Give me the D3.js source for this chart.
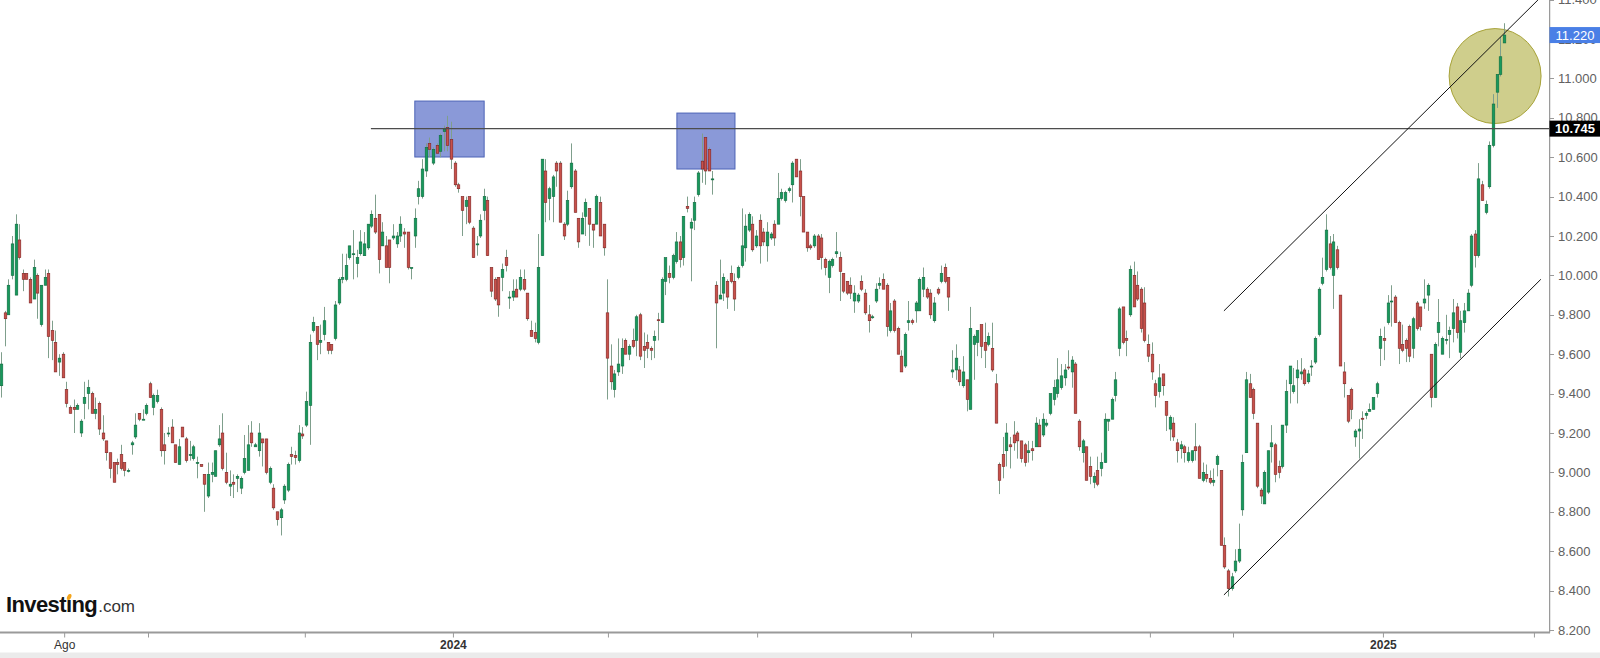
<!DOCTYPE html>
<html><head><meta charset="utf-8">
<script src="https://cdn.jsdelivr.net/npm/d3@7"></script>
<style>html,body{margin:0;padding:0;background:#fff;overflow:hidden}</style>
</head><body>
<svg id="chart" width="1600" height="658"></svg>
<script>
// ---- data (daily candles) ----
const open = [9.44,9.81,9.80,10.00,9.90,10.18,10.01,10.01,9.98,9.88,
10.00,9.75,9.95,10.01,9.72,9.66,9.56,9.60,9.42,9.33,
9.33,9.32,9.20,9.35,9.40,9.40,9.30,9.35,9.20,9.16,
9.10,9.05,9.05,9.09,9.05,9.01,9.14,9.18,9.30,9.27,
9.30,9.45,9.33,9.36,9.32,9.14,9.20,9.23,9.14,9.04,
9.23,9.17,9.09,9.07,9.05,9.04,8.99,8.88,8.99,8.98,
9.14,9.20,9.00,8.93,8.95,8.97,8.92,9.00,9.01,9.20,
9.13,9.11,9.17,9.17,8.95,8.92,8.80,8.77,8.86,8.91,
9.09,9.085,9.06,9.195,9.24,9.34,9.72,9.74,9.66,9.70,
9.66,9.65,9.68,9.86,9.98,9.98,10.09,10.11,10.06,10.11,
10.10,10.14,10.25,10.29,10.31,10.15,10.15,10.18,10.19,10.16,
10.20,10.22,10.22,10.04,10.20,10.40,10.40,10.53,10.67,10.57,
10.66,10.63,10.73,10.75,10.69,10.57,10.46,10.40,10.35,10.40,
10.24,10.16,10.20,10.33,10.38,10.04,9.98,9.99,9.99,10.09,
9.885,9.89,9.93,9.93,9.98,9.91,9.72,9.71,9.66,10.10,
10.53,10.39,10.40,10.57,10.57,10.26,10.26,10.45,10.53,10.29,
10.21,10.30,10.34,10.26,10.26,10.37,10.26,9.81,9.54,9.42,
9.51,9.54,9.67,9.60,9.67,9.67,9.80,9.64,9.66,9.63,
9.67,9.775,9.76,9.97,10.01,9.99,10.07,10.17,10.09,10.35,
10.24,10.28,10.41,10.58,10.70,10.64,10.49,9.95,9.88,9.91,
9.97,10.01,9.97,9.99,10.05,10.14,10.23,10.26,10.15,10.28,
10.22,10.15,10.19,10.26,10.26,10.39,10.38,10.43,10.46,10.59,
10.53,10.40,10.22,10.15,10.15,10.20,10.19,10.08,9.99,10.05,
10.11,10.09,10.01,9.97,9.95,9.87,9.87,9.97,9.91,9.80,
9.79,9.87,9.95,9.98,9.95,9.72,9.87,9.73,9.59,9.54,
9.76,9.77,9.82,9.82,9.93,9.93,9.91,9.77,9.93,9.97,
10.04,9.99,9.51,9.52,9.52,9.44,9.47,9.32,9.65,9.66,
9.75,9.66,9.65,9.63,9.45,9.04,9.09,9.11,9.14,9.19,
9.20,9.16,9.14,9.10,9.12,9.13,9.24,9.19,9.24,9.30,
9.37,9.40,9.43,9.48,9.535,9.51,9.55,9.26,9.10,9.13,
9.03,8.95,9.01,9.02,9.05,9.26,9.27,9.39,9.63,9.84,
9.68,9.80,10.00,9.95,9.93,9.86,9.65,9.60,9.45,9.41,
9.50,9.36,9.22,9.25,9.15,9.12,9.13,9.06,9.06,9.13,
9.13,8.96,8.99,8.97,8.95,9.04,9.01,8.63,8.50,8.41,
8.50,8.55,8.81,9.10,9.45,9.42,9.25,8.91,8.84,8.90,
9.13,9.14,9.03,9.03,9.24,9.45,9.41,9.48,9.50,9.52,
9.46,9.535,9.56,9.70,9.96,10.03,10.16,10.00,10.13,9.90,
9.51,9.39,9.42,9.18,9.21,9.275,9.29,9.31,9.32,9.40,
9.63,9.68,9.76,9.865,9.89,9.76,9.65,9.67,9.74,9.63,
9.86,9.84,9.86,9.90,9.60,9.38,9.71,9.60,9.67,9.70,
9.73,9.84,9.61,9.76,9.82,9.95,10.21,10.10,10.46,10.32,
10.45,10.66,10.93,11.02,11.18];

const high = [9.61,9.82,9.98,10.20,10.31,10.26,10.03,10.01,9.99,10.08,
10.01,9.95,10.03,10.03,9.77,9.72,9.60,9.61,9.46,9.34,
9.37,9.35,9.27,9.46,9.47,9.41,9.38,9.36,9.29,9.16,
9.10,9.05,9.07,9.14,9.05,9.02,9.16,9.30,9.30,9.32,
9.35,9.46,9.40,9.42,9.33,9.20,9.23,9.27,9.14,9.17,
9.23,9.18,9.16,9.14,9.08,9.04,8.99,9.05,9.05,9.11,
9.24,9.30,9.10,9.01,8.99,8.99,8.98,9.19,9.24,9.26,
9.15,9.25,9.17,9.17,9.03,8.94,8.80,8.82,8.94,9.05,
9.13,9.11,9.24,9.23,9.41,9.70,9.79,9.74,9.75,9.84,
9.66,9.65,9.87,9.99,10.11,10.11,10.15,10.23,10.13,10.23,
10.22,10.26,10.33,10.41,10.31,10.27,10.20,10.18,10.26,10.22,
10.30,10.24,10.22,10.04,10.34,10.48,10.59,10.67,10.70,10.65,
10.67,10.72,10.76,10.81,10.78,10.58,10.47,10.40,10.40,10.40,
10.25,10.20,10.31,10.44,10.40,10.04,9.99,9.99,10.06,10.13,
9.92,9.98,9.98,10.03,10.03,9.91,9.77,9.76,10.21,10.59,
10.59,10.45,10.51,10.58,10.58,10.27,10.43,10.67,10.54,10.29,
10.32,10.39,10.34,10.26,10.41,10.40,10.26,9.98,9.65,9.52,
9.68,9.68,9.68,9.65,9.73,9.80,9.81,9.71,9.70,9.64,
9.72,9.81,9.99,10.09,10.05,10.11,10.22,10.20,10.30,10.40,
10.29,10.40,10.53,10.72,10.70,10.65,10.53,9.97,10.08,10.01,
9.98,10.05,10.01,10.05,10.34,10.31,10.32,10.30,10.23,10.31,
10.24,10.27,10.22,10.28,10.52,10.44,10.43,10.45,10.58,10.59,
10.59,10.40,10.22,10.16,10.21,10.21,10.21,10.09,10.08,10.09,
10.22,10.12,10.01,9.97,9.99,9.95,9.91,10.00,9.93,9.85,
9.80,9.96,9.99,10.01,9.96,9.86,9.88,9.74,9.62,9.71,
9.87,9.78,9.87,9.99,10.04,9.94,9.93,9.89,9.94,10.05,
10.06,9.99,9.62,9.65,9.54,9.59,9.47,9.84,9.70,9.72,
9.75,9.76,9.71,9.76,9.50,9.05,9.18,9.25,9.18,9.26,
9.21,9.16,9.15,9.16,9.16,9.28,9.27,9.30,9.27,9.40,
9.47,9.58,9.55,9.55,9.62,9.59,9.56,9.27,9.17,9.13,
9.08,9.00,9.08,9.10,9.30,9.27,9.38,9.51,9.84,9.84,
9.72,10.05,10.07,10.02,9.94,9.94,9.70,9.66,9.47,9.55,
9.50,9.36,9.29,9.28,9.17,9.16,9.14,9.13,9.11,9.25,
9.14,9.05,9.04,9.01,9.02,9.09,9.01,8.67,8.51,8.49,
8.61,8.74,9.09,9.51,9.50,9.43,9.25,8.92,9.01,9.11,
9.24,9.15,9.06,9.24,9.47,9.54,9.53,9.57,9.58,9.53,
9.52,9.57,9.69,9.94,10.09,10.31,10.20,10.21,10.15,9.90,
9.56,9.39,9.43,9.22,9.27,9.31,9.31,9.35,9.38,9.46,
9.73,9.74,9.90,9.95,9.90,9.77,9.75,9.68,9.75,9.79,
9.87,9.84,9.98,9.96,9.60,9.66,9.88,9.69,9.80,9.74,
9.88,9.86,9.82,9.86,9.93,10.21,10.23,10.57,10.48,10.38,
10.68,10.92,11.02,11.21,11.28];

const low = [9.38,9.64,9.80,9.98,9.90,10.08,9.92,9.98,9.86,9.88,
9.78,9.74,9.95,9.58,9.57,9.51,9.49,9.48,9.33,9.30,
9.20,9.32,9.18,9.27,9.32,9.30,9.27,9.19,9.16,9.06,
8.97,8.95,8.99,9.01,8.98,9.00,9.09,9.17,9.26,9.27,
9.29,9.38,9.29,9.35,9.08,9.04,9.18,9.15,9.05,9.04,
9.18,9.05,9.06,9.06,8.97,9.03,8.80,8.87,8.95,8.98,
9.13,9.01,8.94,8.88,8.87,8.90,8.89,8.99,9.01,9.13,
9.13,9.08,9.03,8.99,8.94,8.81,8.73,8.68,8.84,8.90,
9.04,9.04,9.05,9.17,9.23,9.14,9.71,9.57,9.60,9.67,
9.60,9.60,9.67,9.85,9.96,9.97,10.08,9.98,9.99,10.10,
10.10,10.13,10.24,10.21,10.01,10.15,10.04,9.96,10.18,10.14,
10.17,10.14,10.03,9.98,10.14,10.36,10.39,10.50,10.60,10.56,
10.62,10.60,10.63,10.63,10.54,10.45,10.42,10.20,10.26,10.26,
10.09,10.10,10.19,10.28,10.10,9.89,9.87,9.79,9.92,10.02,
9.83,9.87,9.89,9.92,9.92,9.77,9.69,9.66,9.65,10.10,
10.27,10.28,10.27,10.45,10.27,10.18,10.25,10.44,10.32,10.14,
10.21,10.20,10.15,10.14,10.26,10.20,10.10,9.37,9.42,9.38,
9.49,9.50,9.60,9.57,9.63,9.59,9.57,9.53,9.58,9.57,
9.58,9.67,9.76,9.90,9.96,9.98,10.06,10.04,10.05,10.32,
9.97,10.23,10.40,10.47,10.46,10.53,10.41,9.63,9.88,9.87,
9.83,9.96,9.82,9.98,10.04,10.07,10.22,10.12,10.14,10.06,
10.15,10.07,10.18,10.15,10.26,10.38,10.37,10.42,10.37,10.50,
10.30,10.22,10.12,10.13,10.14,10.08,10.03,10.00,9.91,10.04,
10.09,9.87,9.91,9.90,9.88,9.81,9.86,9.92,9.80,9.71,
9.78,9.86,9.93,9.93,9.69,9.71,9.71,9.60,9.51,9.53,
9.72,9.75,9.76,9.82,9.89,9.88,9.78,9.76,9.90,9.96,
9.96,9.82,9.48,9.47,9.44,9.43,9.31,9.32,9.47,9.59,
9.58,9.53,9.64,9.51,9.25,8.89,8.97,9.03,9.02,9.11,
9.07,9.05,9.03,9.05,9.06,9.13,9.13,9.18,9.23,9.29,
9.34,9.38,9.42,9.44,9.52,9.43,9.30,9.11,9.05,8.96,
8.94,8.92,8.93,8.98,9.05,9.21,9.27,9.36,9.59,9.65,
9.59,9.79,9.84,9.87,9.71,9.66,9.56,9.47,9.33,9.38,
9.39,9.21,9.16,9.16,9.05,9.07,9.05,9.05,9.05,9.06,
8.97,8.95,8.95,8.94,8.93,8.98,8.63,8.51,8.37,8.40,
8.49,8.54,8.78,9.10,9.38,9.27,8.92,8.84,8.84,8.89,
9.05,8.95,8.97,9.02,9.20,9.35,9.40,9.35,9.47,9.44,
9.45,9.49,9.55,9.69,9.95,10.02,10.03,9.83,10.03,9.54,
9.38,9.25,9.27,9.13,9.07,9.17,9.27,9.31,9.32,9.38,
9.54,9.57,9.75,9.74,9.76,9.55,9.61,9.56,9.56,9.58,
9.72,9.72,9.83,9.82,9.33,9.38,9.64,9.60,9.65,9.58,
9.66,9.68,9.58,9.71,9.82,9.94,10.04,10.09,10.38,10.31,
10.44,10.65,10.85,11.01,11.18];

const close = [9.55,9.78,9.95,10.16,10.26,10.09,9.98,9.98,9.86,10.04,
9.91,9.95,9.99,9.69,9.67,9.51,9.58,9.48,9.35,9.30,
9.32,9.34,9.26,9.38,9.43,9.30,9.32,9.22,9.17,9.10,
9.02,8.95,9.04,9.02,9.01,9.01,9.15,9.24,9.27,9.27,
9.34,9.38,9.39,9.39,9.11,9.11,9.20,9.15,9.05,9.13,
9.18,9.06,9.09,9.13,9.05,9.03,8.94,8.99,9.00,9.11,
9.17,9.02,8.95,8.94,8.94,8.98,8.97,9.07,9.14,9.15,
9.14,9.20,9.15,9.00,9.02,8.82,8.76,8.81,8.93,9.04,
9.08,9.075,9.20,9.185,9.36,9.66,9.76,9.65,9.67,9.77,
9.62,9.62,9.85,9.98,9.99,10.05,10.15,10.11,10.09,10.17,
10.16,10.26,10.31,10.22,10.08,10.22,10.04,10.04,10.20,10.20,
10.26,10.21,10.04,10.04,10.29,10.44,10.54,10.65,10.64,10.64,
10.62,10.71,10.74,10.66,10.59,10.46,10.44,10.33,10.38,10.27,
10.09,10.16,10.28,10.40,10.10,9.92,9.88,9.85,10.03,10.05,
9.89,9.92,9.89,9.99,9.93,9.78,9.69,9.68,10.04,10.59,
10.37,10.44,10.50,10.53,10.27,10.20,10.38,10.57,10.32,10.17,
10.29,10.37,10.26,10.23,10.40,10.20,10.14,9.58,9.46,9.50,
9.55,9.63,9.60,9.64,9.64,9.79,9.59,9.62,9.63,9.62,
9.69,9.77,9.98,10.09,9.99,10.10,10.17,10.08,10.30,10.34,
10.27,10.37,10.52,10.54,10.53,10.53,10.49,9.86,9.90,9.99,
9.89,9.97,9.88,10.04,10.15,10.25,10.31,10.13,10.20,10.15,
10.17,10.22,10.21,10.19,10.39,10.42,10.42,10.44,10.57,10.50,
10.40,10.22,10.14,10.14,10.20,10.08,10.09,10.04,10.07,10.08,
10.12,10.02,9.92,9.91,9.91,9.91,9.90,9.93,9.81,9.77,
9.79,9.93,9.96,9.93,9.74,9.82,9.72,9.60,9.51,9.70,
9.77,9.76,9.86,9.98,9.99,9.89,9.80,9.86,9.91,10.01,
9.97,9.89,9.52,9.58,9.46,9.51,9.37,9.73,9.69,9.72,
9.64,9.62,9.69,9.52,9.25,8.96,9.03,9.20,9.13,9.15,
9.16,9.07,9.05,9.11,9.11,9.25,9.13,9.27,9.25,9.40,
9.43,9.47,9.49,9.52,9.53,9.57,9.30,9.13,9.16,8.96,
8.98,8.98,8.94,9.05,9.27,9.27,9.37,9.47,9.83,9.66,
9.67,10.03,9.84,9.88,9.73,9.67,9.59,9.51,9.39,9.48,
9.44,9.29,9.28,9.18,9.11,9.14,9.10,9.10,9.11,9.11,
8.97,9.00,8.97,8.95,8.96,9.08,8.63,8.52,8.41,8.47,
8.55,8.61,9.05,9.47,9.38,9.30,8.93,8.88,9.00,9.11,
9.15,8.99,9.00,9.24,9.41,9.54,9.44,9.52,9.51,9.45,
9.50,9.54,9.68,9.93,9.99,10.23,10.04,10.17,10.04,9.54,
9.45,9.26,9.32,9.21,9.22,9.27,9.30,9.32,9.38,9.45,
9.69,9.67,9.86,9.87,9.76,9.63,9.62,9.63,9.59,9.78,
9.73,9.74,9.88,9.95,9.38,9.65,9.76,9.68,9.675,9.72,
9.81,9.71,9.77,9.82,9.91,10.20,10.10,10.49,10.38,10.36,
10.66,10.87,11.02,11.11,11.22];

const yTicks = [11.4,11.2,11.0,10.8,10.6,10.4,10.2,10.0,9.8,9.6,9.4,9.2,9.0,8.8,8.6,8.4,8.2];
const xTickIdx = [18.4,41.5,84.7,125.5,168.2,209.3,251.7,274.3,317.5,340.4,381.7,423.3];
const xTickLabels = ["Ago","","","2024","","","","","","","2025",""];
const lastPrice = 11.22;
const levelPrice = 10.745;
const levelStartIdx = 102.9;
const upperTrend = [[337.9, 9.82],[424.4, 11.398]];
const lowerTrend = [[337.9, 8.378],[425.2, 9.98]];
const boxes = [{i0:115.0,i1:134.1,p0:10.601,p1:10.885},{i0:187.2,i1:203.2,p0:10.540,p1:10.824}];
const ellipse = {i:412.6, p:11.012, ri:12.67, rp:0.241};

// ---- layout ----
const svg = d3.select("#chart");
const plotRight = 1549, plotBottom = 632.5;
const n = Math.min(open.length, high.length, low.length, close.length);
const x = d3.scaleLinear().domain([1, 415]).range([1, 1503.8]);
const y = d3.scaleLinear().domain([8.2, 11.4]).range([630, -0.4]);
const FONT = "'Liberation Sans', Arial, Helvetica, sans-serif";

svg.append("rect").attr("width",1600).attr("height",658).attr("fill","#fff");
svg.append("rect").attr("x",0).attr("y",652.5).attr("width",1600).attr("height",6).attr("fill","#ebebeb");

const defs = svg.append("defs");
defs.append("clipPath").attr("id","plot").append("rect")
  .attr("x",0).attr("y",0).attr("width",plotRight).attr("height",plotBottom);
defs.append("clipPath").attr("id","axisr").append("rect")
  .attr("x",plotRight).attr("y",0).attr("width",1600-plotRight).attr("height",636);

const plot = svg.append("g").attr("clip-path","url(#plot)");

// blue boxes (behind candles)
plot.selectAll("rect.box").data(boxes).enter().append("rect")
  .attr("x", d=>x(d.i0)).attr("y", d=>y(d.p1))
  .attr("width", d=>x(d.i1)-x(d.i0)).attr("height", d=>y(d.p0)-y(d.p1))
  .attr("fill","rgba(60,85,190,0.6)").attr("stroke","#4c63b6").attr("stroke-width",1);

// ellipse highlight
plot.append("ellipse")
  .attr("cx", x(ellipse.i)).attr("cy", y(ellipse.p))
  .attr("rx", x(ellipse.i+ellipse.ri)-x(ellipse.i))
  .attr("ry", y(ellipse.p-ellipse.rp)-y(ellipse.p))
  .attr("fill","rgba(178,176,70,0.62)").attr("stroke","#a8a33a").attr("stroke-width",1);

// candles
const idx = d3.range(n);
const bw = 2.6;
const cg = plot.append("g");
cg.selectAll("line.wick").data(idx).enter().append("line")
  .attr("x1", i=>Math.round(x(i+1))+0.5).attr("x2", i=>Math.round(x(i+1))+0.5)
  .attr("y1", i=>y(high[i])).attr("y2", i=>y(low[i]))
  .attr("stroke","#7f9f8c").attr("stroke-width",1);
cg.selectAll("rect.body").data(idx).enter().append("rect")
  .attr("x", i=>Math.round(x(i+1))+0.5-bw/2)
  .attr("y", i=>y(Math.max(open[i],close[i])))
  .attr("width", bw)
  .attr("height", i=>Math.max(1, Math.abs(y(open[i])-y(close[i]))))
  .attr("fill", i=> close[i]>=open[i] ? "#17995c" : "#c8514a")
  .attr("stroke", i=> close[i]>=open[i] ? "#0e6a3e" : "#7e2222")
  .attr("stroke-width",0.6);

// horizontal level
plot.append("line")
  .attr("x1", x(levelStartIdx)).attr("x2", plotRight)
  .attr("y1", y(levelPrice)).attr("y2", y(levelPrice))
  .attr("stroke","#4d4d4d").attr("stroke-width",1.4);

// trend channel
const tl = d3.line().x(d=>x(d[0])).y(d=>y(d[1]));
[upperTrend, lowerTrend].forEach(t=>{
  plot.append("path").attr("d", tl(t)).attr("fill","none")
    .attr("stroke","#111").attr("stroke-width",1);
});

// right axis
const ra = svg.append("g").attr("clip-path","url(#axisr)");
ra.append("line").attr("x1",plotRight+0.5).attr("x2",plotRight+0.5).attr("y1",0).attr("y2",plotBottom)
  .attr("stroke","#9a9a9a").attr("stroke-width",1.5);
const fmt = d3.format(".3f");
yTicks.forEach(v=>{
  ra.append("line").attr("x1",plotRight+1).attr("x2",plotRight+5)
    .attr("y1",Math.round(y(v))+0.5).attr("y2",Math.round(y(v))+0.5)
    .attr("stroke","#9a9a9a").attr("stroke-width",1);
  ra.append("text").attr("x",1558).attr("y",y(v)).attr("dy","0.35em")
    .attr("font-family",FONT).attr("font-size",13).attr("fill","#616161").text(fmt(v));
});

// price labels
function priceTag(v, bg, bold){
  const g = svg.append("g");
  g.append("rect").attr("x",plotRight+0.5).attr("y",y(v)-8).attr("width",1600-plotRight).attr("height",16)
    .attr("fill",bg);
  g.append("text").attr("x",1575).attr("y",y(v)).attr("dy","0.36em").attr("text-anchor","middle")
    .attr("font-family",FONT).attr("font-size",13).attr("font-weight",bold?"bold":"normal")
    .attr("fill","#fff").text(fmt(v));
}
priceTag(levelPrice, "#000", true);
priceTag(lastPrice, "#4a7fe6", false);

// bottom axis
const xa = d3.axisBottom(x).tickValues(xTickIdx).tickSize(5).tickPadding(3)
  .tickFormat((d,i)=>xTickLabels[i]);
const gx = svg.append("g").attr("transform",`translate(0,${plotBottom})`).call(xa);
gx.select(".domain").remove();
gx.selectAll(".tick line").attr("stroke","#9a9a9a");
gx.selectAll(".tick text").attr("font-family",FONT).attr("font-size",12).attr("fill","#333")
  .attr("font-weight",(d,i)=> xTickLabels[i]==="Ago" ? "normal" : "bold");
svg.append("line").attr("x1",0).attr("x2",plotRight+1).attr("y1",plotBottom).attr("y2",plotBottom)
  .attr("stroke","#9a9a9a").attr("stroke-width",2);

// logo
const logo = svg.append("text").attr("x",6).attr("y",612).attr("font-family",FONT);
logo.append("tspan").attr("font-size",22).attr("font-weight","bold").attr("fill","#111")
  .attr("letter-spacing",-0.6).text("Invest\u0131ng");
logo.append("tspan").attr("font-size",17).attr("fill","#333").attr("dx",1).text(".com");
const tmp = svg.append("text").attr("font-family",FONT).attr("font-size",22).attr("font-weight","bold")
  .attr("letter-spacing",-0.6).text("Invest");
const wInv = tmp.node().getComputedTextLength(); tmp.remove();
svg.append("ellipse").attr("cx",6+wInv+3.2).attr("cy",597).attr("rx",2).attr("ry",3.2)
  .attr("transform",`rotate(25,${6+wInv+3.2},597)`).attr("fill","#f4a51c");
</script>
</body></html>
